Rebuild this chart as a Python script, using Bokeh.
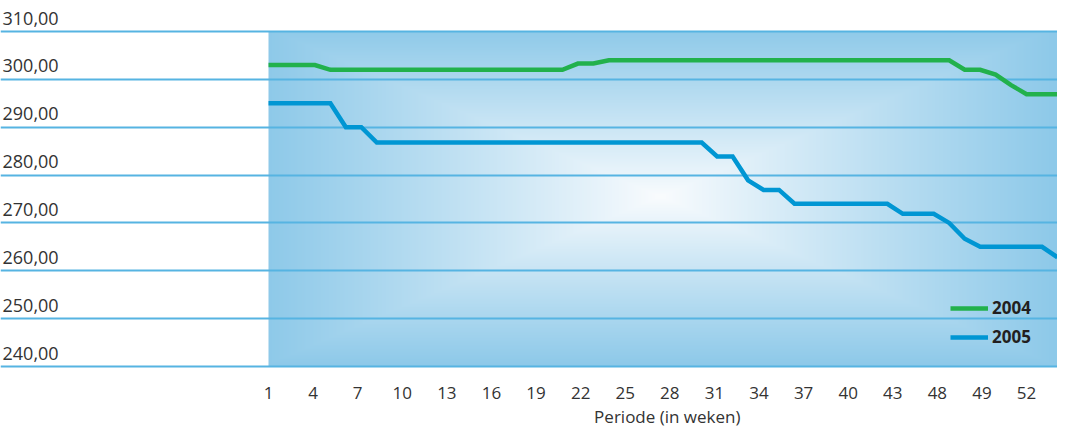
import numpy as np
from bokeh.plotting import figure
from bokeh.models import (ColumnDataSource, FixedTicker, CustomJSTickFormatter, LabelSet,
                          Legend, LegendItem, Title)
from bokeh.core.properties import value
from bokeh.embed import file_html
from bokeh.resources import INLINE

# ---------------- data ----------------
weeks = list(range(1, 53))
v2004 = [303, 303, 303, 303, 302, 302, 302, 302, 302, 302, 302, 302, 302, 302, 302, 302,
         302, 302, 302, 302, 303.3, 303.3, 304, 304, 304, 304, 304, 304, 304, 304, 304, 304,
         304, 304, 304, 304, 304, 304, 304, 304, 304, 304, 304, 304, 304, 302, 302, 301,
         298.8, 296.9, 296.9, 296.9]
v2005 = [295, 295, 295, 295, 295, 290, 290, 286.8, 286.8, 286.8, 286.8, 286.8, 286.8, 286.8,
         286.8, 286.8, 286.8, 286.8, 286.8, 286.8, 286.8, 286.8, 286.8, 286.8, 286.8, 286.8,
         286.8, 286.8, 286.8, 283.9, 283.9, 278.9, 276.9, 276.9, 274, 274, 274, 274, 274, 274,
         274, 271.9, 271.9, 271.9, 270, 266.7, 265, 265, 265, 265, 265, 262.8]
x_tick_labels = ["1", "4", "7", "10", "13", "16", "19", "22", "25", "28", "31", "34", "37",
                 "40", "43", "48", "49", "52"]
y_ticks = [240, 250, 260, 270, 280, 290, 300, 310]
y_tick_labels = ["240,00", "250,00", "260,00", "270,00", "280,00", "290,00", "300,00", "310,00"]
series_names = ["2004", "2005"]
x_title = "Periode (in weken)"

# ---------------- layout ----------------
FONT = "Open Sans"
W, H = 1057, 429
frame_w = W
week1_px = 268                      # pixel (inside frame) where week 1 sits
x_end = weeks[-1]
x_start = weeks[0] - (weeks[-1] - weeks[0]) * week1_px / (frame_w - week1_px)

top_px = 31                         # pixel of the top grid line (310)
bot_px = 366                        # pixel of the bottom grid line (240)
frame_bottom = 368
ppu = (bot_px - top_px) / (y_ticks[-1] - y_ticks[0])
y_end = y_ticks[-1] + top_px / ppu
y_start = y_ticks[0] - (frame_bottom - bot_px) / ppu

p = figure(width=W, height=H, output_backend="svg", toolbar_location=None,
           x_range=(x_start, x_end), y_range=(y_start, y_end),
           y_axis_location=None, min_border_left=0, min_border_right=0,
           min_border_top=0, min_border_bottom=H - frame_bottom)
p.outline_line_color = None
p.background_fill_color = "white"
p.border_fill_color = "white"

# gradient background of the plot area (style only)
nx, ny = 789, 335
xx = np.arange(nx) + 0.5
yy = np.arange(ny) + 0.5           # from top
X, Y = np.meshgrid(xx, yy)
cx, cy = 392.0, 165.0
t = np.maximum(np.abs(X - cx) / 397.0, np.abs(Y - cy) / 170.0)
t = np.clip(t, 0, 1) ** 0.95
edge = np.array([141, 201, 233], dtype=float)
centre = np.array([250, 252, 254], dtype=float)
rgb = centre[None, None, :] * (1 - t[..., None]) + edge[None, None, :] * t[..., None]
rgb = rgb[::-1]                    # image rows go bottom-up
img = np.empty((ny, nx), dtype=np.uint32)
view = img.view(dtype=np.uint8).reshape((ny, nx, 4))
view[..., 0] = rgb[..., 0].astype(np.uint8)
view[..., 1] = rgb[..., 1].astype(np.uint8)
view[..., 2] = rgb[..., 2].astype(np.uint8)
view[..., 3] = 255
bg = p.image_rgba(image=[img], x=weeks[0], y=y_ticks[0], dw=weeks[-1] - weeks[0],
                  dh=y_ticks[-1] - y_ticks[0])
bg.level = "image"

# grid
p.xgrid.visible = False
p.ygrid.ticker = FixedTicker(ticks=y_ticks)
p.ygrid.grid_line_color = "#56b4e2"
p.ygrid.grid_line_width = 2
p.ygrid.level = "underlay"

# lines
src = ColumnDataSource(dict(week=weeks, a=v2004, b=v2005))
r1 = p.line("week", "a", source=src, line_color="#22b14c", line_width=4.5, line_join="miter")
r2 = p.line("week", "b", source=src, line_color="#0096d3", line_width=4.5, line_join="miter")

# x axis
tick_pos = list(np.linspace(1, 50, len(x_tick_labels)))
p.xaxis.ticker = FixedTicker(ticks=tick_pos)
p.xaxis.formatter = CustomJSTickFormatter(args=dict(labels=x_tick_labels),
                                          code="return labels[index];")
p.xaxis.axis_line_color = None
p.xaxis.major_tick_line_color = None
p.xaxis.minor_tick_line_color = None
p.xaxis.major_tick_out = 0
p.xaxis.major_tick_in = 0
p.xaxis.major_label_text_font = FONT
p.xaxis.major_label_text_font_size = "17px"
p.xaxis.major_label_text_color = "#333333"
p.xaxis.major_label_standoff = 18

# y labels (above the grid lines, at the left)
ylab_src = ColumnDataSource(dict(x=[x_start] * len(y_ticks), y=y_ticks, t=y_tick_labels))
p.add_layout(LabelSet(x="x", y="y", text="t", source=ylab_src, x_offset=2, y_offset=7,
                      text_font=value(FONT), text_font_size=value("18px"),
                      text_color="#333333", text_align="left",
                      text_baseline="alphabetic"))

# x axis title, right-aligned so that it is centred on the data area
p.add_layout(Title(text=x_title, align="right", offset=317, standoff=2,
                   text_line_height=1.7,
                   text_font=FONT, text_font_size="17px", text_font_style="normal",
                   text_color="#333333"), "below")

# legend
legend = Legend(items=[LegendItem(label=series_names[0], renderers=[r1]),
                       LegendItem(label=series_names[1], renderers=[r2])],
                location=(950, 20), orientation="vertical",
                background_fill_alpha=0, border_line_color=None,
                padding=0, margin=0, spacing=6, glyph_width=38, glyph_height=20,
                label_height=20, label_standoff=4,
                label_text_font=FONT, label_text_font_size="17px",
                label_text_font_style="bold", label_text_color="#231f20")
p.add_layout(legend)

open("out.html", "w").write(file_html(p, INLINE))
